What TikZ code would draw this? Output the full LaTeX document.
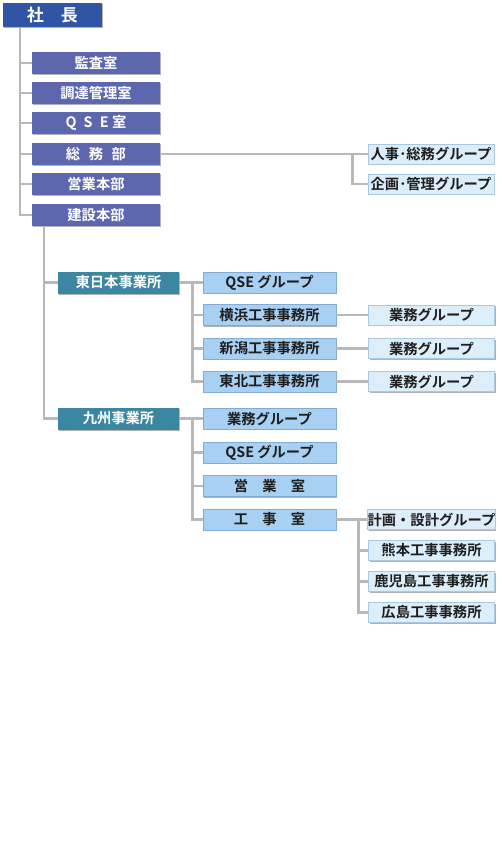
\documentclass[tikz,border=0pt]{standalone}
\usepackage{fontspec}
\setmainfont{Noto Sans CJK JP}[BoldFont={Noto Sans CJK JP Bold}]
\usetikzlibrary{shadows,calc}
\definecolor{cpres}{HTML}{2F55A4}
\definecolor{clv}{HTML}{5C67AE}
\definecolor{cteal}{HTML}{3B87A1}
\definecolor{csub}{HTML}{A8D0F2}
\definecolor{csubd}{HTML}{82ACD4}
\definecolor{cleaf}{HTML}{DCEEFA}
\definecolor{cleafd}{HTML}{A9C9E2}
\definecolor{cline}{HTML}{B8B8B8}
\definecolor{ctext}{HTML}{1E1E1E}
\begin{document}
\begin{tikzpicture}[x=1pt,y=-1pt,
  box/.style={inner sep=0pt, font=\bfseries\fontsize{14.3}{16}\selectfont,
    drop shadow={shadow xshift=1pt,shadow yshift=-1.3pt,opacity=0.3,fill=black}},
  presbox/.style={box, fill=cpres, text=white, minimum width=99pt, minimum height=24pt,
    font=\bfseries\fontsize{17}{18}\selectfont},
  lvbox/.style={box, fill=clv, text=white, minimum width=128pt, minimum height=22pt},
  officebox/.style={box, fill=cteal, text=white, minimum width=121pt, minimum height=22pt},
  subbox/.style={box, fill=csub, draw=csubd, line width=0.6pt, text=ctext, minimum width=133pt, minimum height=21pt},
  leafbox/.style={box, fill=cleaf, draw=cleafd, line width=0.6pt, text=ctext, minimum width=126pt, minimum height=20pt},
  conn/.style={draw=cline, line width=2.6pt}
]
\useasboundingbox[fill=white] (0,0) rectangle (501,854);

% president
\node[presbox] (pres) at (52.5,15) {社\hspace{1em}長};

% level 1
\node[lvbox] (l1) at (96,63) {監査室};
\node[lvbox] (l2) at (96,93) {調達管理室};
\node[lvbox] (l3) at (96,123) {Q\hspace{0.5em}S\hspace{0.5em}E\hspace{0.25em}室};
\node[lvbox] (l4) at (96,154) {総\hspace{0.6em}務\hspace{0.6em}部};
\node[lvbox] (l5) at (96,184) {営業本部};
\node[lvbox] (l6) at (96,215) {建設本部};

% general affairs groups
\node[leafbox] (r1) at (431,154) {人事･総務グループ};
\node[leafbox] (r2) at (431,184) {企画･管理グループ};

% offices
\node[officebox] (e1) at (118.5,282.5) {東日本事業所};
\node[officebox] (k1) at (118.5,418.5) {九州事業所};

% east japan
\node[subbox] (a1) at (269.5,282.5) {QSE グループ};
\node[subbox] (a2) at (269.5,315) {横浜工事事務所};
\node[subbox] (a3) at (269.5,348.5) {新潟工事事務所};
\node[subbox] (a4) at (269.5,381.5) {東北工事事務所};
\node[leafbox] (b1) at (431.5,315) {業務グループ};
\node[leafbox] (b2) at (431.5,348.5) {業務グループ};
\node[leafbox] (b3) at (431.5,381.5) {業務グループ};

% kyushu
\node[subbox] (c1) at (269.5,418.5) {業務グループ};
\node[subbox] (c2) at (269.5,452.5) {QSE グループ};
\node[subbox] (c3) at (269.5,486) {営\hspace{1em}業\hspace{1em}室};
\node[subbox] (c4) at (269.5,519.5) {工\hspace{1em}事\hspace{1em}室};
\node[leafbox] (d1) at (431.5,519.5) {計画・設計グループ};
\node[leafbox] (d2) at (431.5,550.5) {熊本工事事務所};
\node[leafbox] (d3) at (431.5,581.5) {鹿児島工事事務所};
\node[leafbox] (d4) at (431.5,612.5) {広島工事事務所};

% connectors
\coordinate (t0) at ($(pres.south west)+(17,0)$);
\foreach \n in {l1,l2,l3,l4,l5,l6} \draw[conn] (t0) |- (\n.west);

\draw[conn] (l4.east) -- (r1.west);
\coordinate (j1) at ($(r1.west)+(-15,0)$);
\draw[conn] (j1) |- (r2.west);

\coordinate (t1) at ($(l6.south west)+(12,0)$);
\draw[conn] (t1) |- (e1.west);
\draw[conn] (t1) |- (k1.west);

\draw[conn] (e1.east) -- (a1.west);
\coordinate (j2) at ($(e1.east)+(13,0)$);
\foreach \n in {a2,a3,a4} \draw[conn] (j2) |- (\n.west);
\draw[conn] (a2.east) -- (b1.west);
\draw[conn] (a3.east) -- (b2.west);
\draw[conn] (a4.east) -- (b3.west);

\draw[conn] (k1.east) -- (c1.west);
\coordinate (j3) at ($(k1.east)+(13,0)$);
\foreach \n in {c2,c3,c4} \draw[conn] (j3) |- (\n.west);
\draw[conn] (c4.east) -- (d1.west);
\coordinate (j4) at ($(d1.west)+(-9,0)$);
\foreach \n in {d2,d3,d4} \draw[conn] (j4) |- (\n.west);
\end{tikzpicture}
\end{document}
